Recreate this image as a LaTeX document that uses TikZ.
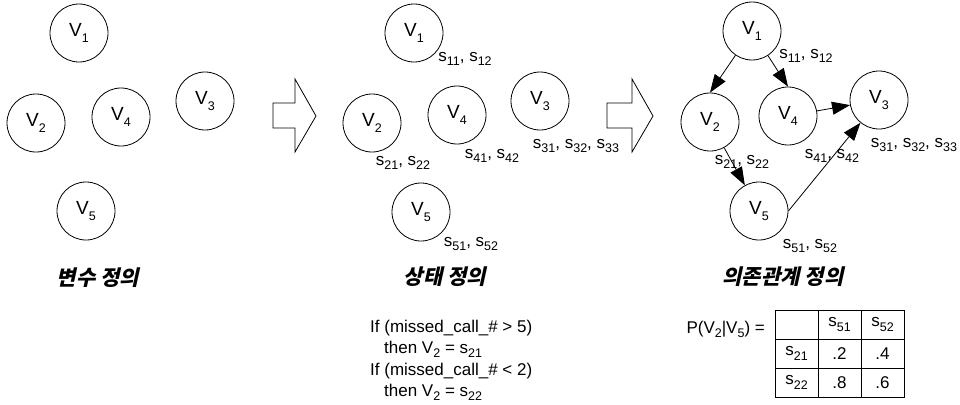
\documentclass[tikz,border=0pt]{standalone}
\usepackage{fontspec}
\setmainfont{Liberation Sans}
\newfontfamily\kr[FakeSlant=0.22]{Noto Sans CJK KR}
\usetikzlibrary{arrows.meta}
\newcommand{\lo}[1]{\raisebox{-0.28em}{\fontsize{12.5}{13}\selectfont #1}}

\tikzset{
    var/.style={circle, draw, line width=0.8pt, minimum size=58pt, inner sep=0pt, font=\fontsize{19}{21}\selectfont},
    lab/.style={inner sep=0pt, font=\fontsize{17}{20}\selectfont},
    title/.style={inner sep=0pt, font=\kr\bfseries\fontsize{21}{23}\selectfont},
    bigarrow/.style={draw, line width=0.8pt, fill=white},
    dep/.style={line width=0.8pt, -{Triangle[length=18pt, width=13pt]}},
    cell/.style={draw, line width=0.8pt, minimum width=43pt, minimum height=29pt, inner sep=0pt, font=\fontsize{17}{20}\selectfont},
}

\begin{document}
\begin{tikzpicture}[x=1pt, y=-1pt]
    \useasboundingbox (0,0) rectangle (960,404);

    % 변수 정의
    \node[var] (a1) at (79,33) {V\lo{1}};
    \node[var] (a2) at (36,123) {V\lo{2}};
    \node[var] (a3) at (205,101) {V\lo{3}};
    \node[var] (a4) at (121,117) {V\lo{4}};
    \node[var] (a5) at (86,211) {V\lo{5}};
    \node[title] (ta) at (98,278) {변수 정의};

    \draw[bigarrow] (273,103) -- (295,103) -- (295,79) -- (316,116) -- (295,152) -- (295,128) -- (273,128) -- cycle;

    % 상태 정의
    \node[var] (b1) at (414,33) {V\lo{1}};
    \node[var] (b2) at (372,123) {V\lo{2}};
    \node[var] (b3) at (540,101) {V\lo{3}};
    \node[var] (b4) at (457,115) {V\lo{4}};
    \node[var] (b5) at (421,212) {V\lo{5}};
    \node[lab] (bs1) at (465,59) {s\lo{11}, s\lo{12}};
    \node[lab] (bs2) at (403,163) {s\lo{21}, s\lo{22}};
    \node[lab] (bs3) at (576,146) {s\lo{31}, s\lo{32}, s\lo{33}};
    \node[lab] (bs4) at (492,156) {s\lo{41}, s\lo{42}};
    \node[lab] (bs5) at (471,244) {s\lo{51}, s\lo{52}};
    \node[title] (tb) at (445,277) {상태 정의};

    \node[lab, anchor=base west] (c1) at (370,332) {If (missed\_call\_\# > 5)};
    \node[lab, anchor=base west] (c2) at (384,353) {then V\lo{2} = s\lo{21}};
    \node[lab, anchor=base west] (c3) at (370,375) {If (missed\_call\_\# < 2)};
    \node[lab, anchor=base west] (c4) at (384,396) {then V\lo{2} = s\lo{22}};

    \draw[bigarrow] (607,103) -- (632,103) -- (632,79) -- (653,116) -- (632,152) -- (632,128) -- (607,128) -- cycle;

    % 의존관계 정의
    \node[var] (v1) at (752,31) {V\lo{1}};
    \node[var] (v2) at (710,122) {V\lo{2}};
    \node[var] (v3) at (879,100) {V\lo{3}};
    \node[var] (v4) at (788,116) {V\lo{4}};
    \node[var] (v5) at (759,211) {V\lo{5}};
    \node[lab] (vs1) at (806,56) {s\lo{11}, s\lo{12}};
    \node[lab] (vs2) at (742,162) {s\lo{21}, s\lo{22}};
    \node[lab] (vs3) at (914,145) {s\lo{31}, s\lo{32}, s\lo{33}};
    \node[lab] (vs4) at (832,156) {s\lo{41}, s\lo{42}};
    \node[lab] (vs5) at (810,246) {s\lo{51}, s\lo{52}};
    \node[title] (tv) at (783,277) {의존관계 정의};

    \draw[dep] (v1) -- (v2.north);
    \draw[dep] (v1) -- (v4.north);
    \draw[dep] (v2) -- (v5);
    \draw[dep] (v4) -- (v3);
    \draw[dep] (v5.east) -- (v3);

    % 조건부 확률표
    \node[lab, anchor=base east] (pv) at (765,333) {P(V\lo{2}|V\lo{5}) =};
    \node[cell] (t11) at (796.5,324.5) {};
    \node[cell] (t12) at (839.5,324.5) {s\lo{51}};
    \node[cell] (t13) at (882.5,324.5) {s\lo{52}};
    \node[cell] (t21) at (796.5,353.5) {s\lo{21}};
    \node[cell] (t22) at (839.5,353.5) {.2};
    \node[cell] (t23) at (882.5,353.5) {.4};
    \node[cell] (t31) at (796.5,382.5) {s\lo{22}};
    \node[cell] (t32) at (839.5,382.5) {.8};
    \node[cell] (t33) at (882.5,382.5) {.6};
\end{tikzpicture}
\end{document}
